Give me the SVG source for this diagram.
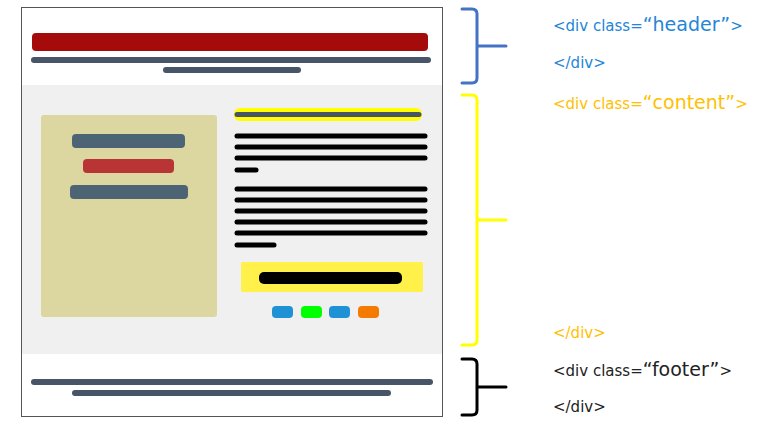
<svg xmlns="http://www.w3.org/2000/svg" width="767" height="430" viewBox="0 0 767 430">
<style>
.bar{stroke-linecap:round;fill:none}
.slate{stroke:#485568;stroke-width:6}
.blk{stroke:#000;stroke-width:5}
.brace{fill:none;stroke-width:3;stroke-linecap:round;stroke-linejoin:round}
.t{font-family:"DejaVu Sans","Noto Sans",sans-serif;font-size:15px}
.big{font-size:19px}
</style>
<rect width="767" height="430" fill="#fff"/>
<g id="page">
<rect x="21.5" y="7.5" width="421" height="409" fill="#fff" stroke="#555" stroke-width="1"/>
</g>
<g id="header">
<rect x="32" y="33" width="396" height="18" rx="4" fill="#a50b0b"/>
<line class="bar slate" x1="34" y1="60" x2="428" y2="60"/>
<line class="bar slate" x1="166" y1="70" x2="298" y2="70"/>
</g>
<g id="content">
<rect x="22" y="85" width="420" height="269" fill="#f0f0f0"/>
<rect x="41" y="115" width="176" height="202" rx="3" fill="#dcd6a1"/>
<rect x="72" y="134" width="113" height="14" rx="4" fill="#4d6475"/>
<rect x="83" y="159" width="91" height="14" rx="4" fill="#b93535"/>
<rect x="70" y="185" width="118" height="14" rx="4" fill="#4d6475"/>
<rect x="234" y="108" width="188" height="13" rx="6" fill="#ffff00"/>
<line class="bar" stroke="#485568" stroke-width="5" x1="237" y1="114.5" x2="419" y2="114.5"/>
<line class="bar blk" x1="237" y1="136" x2="425" y2="136"/>
<line class="bar blk" x1="237" y1="147" x2="425" y2="147"/>
<line class="bar blk" x1="237" y1="158" x2="425" y2="158"/>
<line class="bar blk" x1="237" y1="170" x2="256" y2="170"/>
<line class="bar blk" x1="237" y1="189" x2="425" y2="189"/>
<line class="bar blk" x1="237" y1="200" x2="425" y2="200"/>
<line class="bar blk" x1="237" y1="211" x2="425" y2="211"/>
<line class="bar blk" x1="237" y1="222" x2="425" y2="222"/>
<line class="bar blk" x1="237" y1="233" x2="425" y2="233"/>
<line class="bar blk" x1="237" y1="245" x2="274" y2="245"/>
<rect x="241" y="262" width="182" height="30" rx="2" fill="#fff04a"/>
<rect x="259" y="272" width="143" height="12" rx="5" fill="#000"/>
<rect x="272" y="306" width="21" height="12" rx="4" fill="#1f92d6"/>
<rect x="301" y="306" width="21" height="12" rx="4" fill="#00ff00"/>
<rect x="329" y="306" width="21" height="12" rx="4" fill="#1f92d6"/>
<rect x="358" y="306" width="21" height="12" rx="4" fill="#f57a00"/>
</g>
<g id="footer">
<line class="bar slate" x1="34" y1="382" x2="430" y2="382"/>
<line class="bar slate" x1="75" y1="393" x2="388" y2="393"/>
</g>
<g id="connectors">
<path class="brace" stroke="#4472c4" d="M462,9 L472,9 Q477,9 477,14 L477,78 Q477,83 472,83 L462,83 M477,46 L506,46"/>
<path class="brace" stroke="#ffff00" d="M462,95 L472,95 Q477,95 477,100 L477,340 Q477,345 472,345 L462,345 M477,220 L506,220"/>
<path class="brace" stroke="#000" d="M462,359 L472,359 Q477,359 477,364 L477,410 Q477,415 472,415 L462,415 M477,387 L506,387"/>
</g>
<g id="labels">
<text class="t" x="553" y="31" fill="#2485d8">&lt;div class=<tspan class="big">“header”</tspan>&gt;</text>
<text class="t" x="553" y="68" fill="#2485d8">&lt;/div&gt;</text>
<text class="t" x="553" y="109" fill="#ffc000">&lt;div class=<tspan class="big">“content”</tspan>&gt;</text>
<text class="t" x="553" y="338" fill="#ffc000">&lt;/div&gt;</text>
<text class="t" x="553" y="376" fill="#222">&lt;div class=<tspan class="big">“footer”</tspan>&gt;</text>
<text class="t" x="553" y="412" fill="#222">&lt;/div&gt;</text>
</g>
</svg>
